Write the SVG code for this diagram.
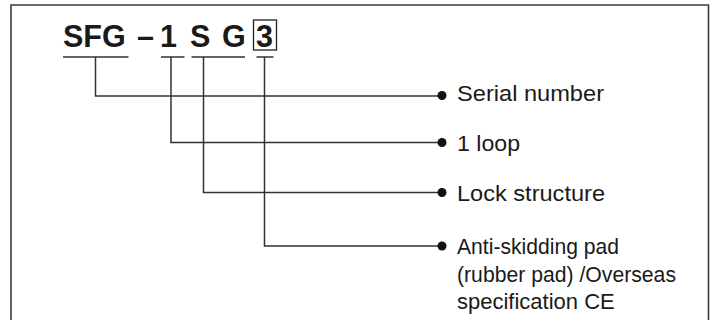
<svg xmlns="http://www.w3.org/2000/svg" width="711" height="320" viewBox="0 0 711 320">
<style>
.frame{fill:none;stroke:#3a3a3a;stroke-width:1.6}
.ul{stroke:#333;stroke-width:1.5}
.conn{fill:none;stroke:#333;stroke-width:1.5}
.dot{fill:#111}
.title{font-family:"Liberation Sans",Arial,sans-serif;font-weight:bold;font-size:30.5px;fill:#1a1a1a}
.lbl{font-family:"Liberation Sans",Arial,sans-serif;font-size:22px;fill:#1a1a1a}
</style>
<rect width="711" height="320" fill="#fff"/>
<path class="frame" d="M11,330 V5 H708.5 V330"/>
<g id="code">
<text class="title" x="63" y="47">SFG</text>
<text class="title" x="137" y="47">–</text>
<text class="title" x="160" y="47">1</text>
<text class="title" x="190" y="47">S</text>
<text class="title" x="222" y="47">G</text>
<text class="title" x="256" y="47">3</text>
<rect x="253.5" y="20" width="23" height="30" fill="none" stroke="#222" stroke-width="1.3"/>
<line class="ul" x1="63" y1="57" x2="128.5" y2="57"/>
<line class="ul" x1="161" y1="57" x2="184.5" y2="57"/>
<line class="ul" x1="191.5" y1="57" x2="245" y2="57"/>
<line class="ul" x1="256.5" y1="57" x2="273.5" y2="57"/>
</g>
<g id="connectors">
<path class="conn" d="M95.5,57 V96 H442"/>
<path class="conn" d="M171,57 V142.5 H442"/>
<path class="conn" d="M203.5,57 V192.5 H442"/>
<path class="conn" d="M264.5,57 V246 H442"/>
</g>
<g id="serial">
<circle class="dot" cx="442" cy="95.5" r="4.5"/>
<text class="lbl" x="457" y="101" textLength="147" lengthAdjust="spacingAndGlyphs">Serial number</text>
</g>
<g id="loop">
<circle class="dot" cx="442" cy="142.5" r="4.5"/>
<text class="lbl" x="457" y="151" textLength="63" lengthAdjust="spacingAndGlyphs">1 loop</text>
</g>
<g id="lock">
<circle class="dot" cx="442" cy="192.5" r="4.5"/>
<text class="lbl" x="457" y="201" textLength="148" lengthAdjust="spacingAndGlyphs">Lock structure</text>
</g>
<g id="anti">
<circle class="dot" cx="442" cy="246" r="4.5"/>
<text class="lbl" x="457" y="253.5" textLength="162" lengthAdjust="spacingAndGlyphs">Anti-skidding pad</text>
<text class="lbl" x="457" y="281.5" textLength="219" lengthAdjust="spacingAndGlyphs">(rubber pad) /Overseas</text>
<text class="lbl" x="457" y="308.5">specification CE</text>
</g>
</svg>
